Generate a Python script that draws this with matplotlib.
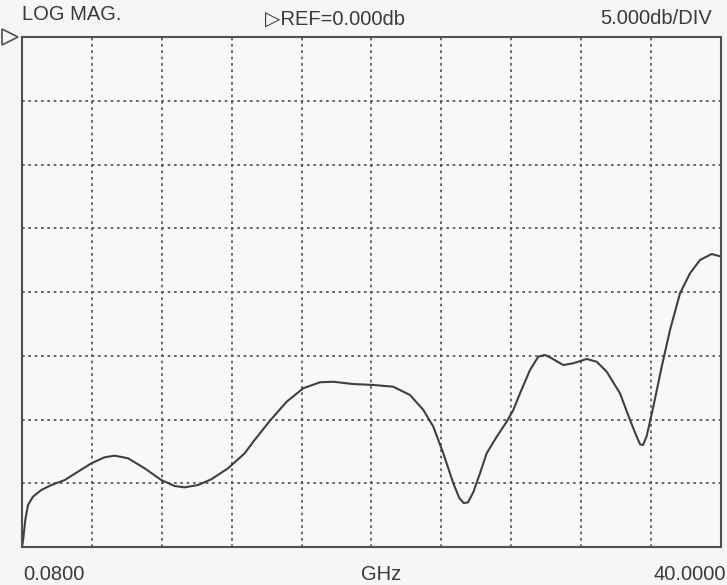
import numpy as np
import matplotlib as mpl

mpl.use('agg')

import matplotlib.pyplot as plt

# trace (GHz, dB)
freq_ghz = [0.08, 0.137, 0.268, 0.423, 0.708, 1.182, 1.753, 2.519, 3.278, 4.038,
            4.803, 5.374, 6.134, 7.087, 8.036, 8.801, 9.372, 10.131, 10.891, 11.845,
            12.798, 13.289, 14.243, 15.197, 16.145, 17.099, 17.858, 19.0, 20.142, 21.285,
            22.239, 23.0, 23.569, 24.14, 24.711, 25.05, 25.3, 25.55, 25.854, 26.236, 26.618,
            27.19, 27.761, 28.138, 28.521, 29.092, 29.566, 29.949, 30.331, 30.994, 31.565,
            32.33, 32.901, 33.472, 34.232, 34.803, 35.186, 35.38, 35.55, 35.757, 36.134, 36.614,
            37.088, 37.659, 38.23, 38.801, 39.47, 40.0]
mag_db = [-40.0, -39.53, -37.88, -36.71, -36.05, -35.53, -35.14, -34.75, -34.09, -33.44,
          -32.96, -32.84, -33.04, -33.83, -34.75, -35.22, -35.32, -35.14, -34.69, -33.83,
          -32.65, -31.74, -30.09, -28.6, -27.55, -27.08, -27.04, -27.22, -27.29, -27.43,
          -28.08, -29.25, -30.56, -32.65, -35.0, -36.15, -36.55, -36.5, -35.7, -34.22, -32.65,
          -31.35, -30.17, -29.25, -27.95, -26.12, -25.07, -24.94, -25.2, -25.73, -25.59,
          -25.25, -25.47, -26.25, -27.95, -30.04, -31.35, -31.95, -32.0, -31.3, -29.0, -25.86,
          -22.98, -20.1, -18.53, -17.49, -17.02, -17.22]

f_start = 0.08
f_stop = 40.0
ref_db = 0.0
db_per_div = 5.0
n_xdiv = 10
n_ydiv = 8

plt.rcParams['font.family'] = ['Liberation Sans', 'DejaVu Sans']
ink = '#3a3a3a'

fig = plt.figure(figsize=(7.27, 5.85), dpi=100, facecolor='#f6f6f6')
ax = fig.add_axes([22/727, 38/585, 699/727, 510/585])
ax.set_facecolor('#f8f8f8')

ax.set_xlim(f_start, f_stop)
ax.set_ylim(ref_db - n_ydiv*db_per_div, ref_db)

xg = np.linspace(f_start, f_stop, n_xdiv + 1)
yg = np.linspace(ref_db - n_ydiv*db_per_div, ref_db, n_ydiv + 1)
for x in xg[1:-1]:
    ax.axvline(x, color='#505050', lw=1.2, ls=(0, (1.6, 2.2)))
for y in yg[1:-1]:
    ax.axhline(y, color='#505050', lw=1.2, ls=(0, (1.6, 2.2)))

ax.plot(freq_ghz, mag_db, color='#404040', lw=1.5, solid_joinstyle='round')

for s in ax.spines.values():
    s.set_color('#505050')
    s.set_linewidth(1.5)
ax.set_xticks([])
ax.set_yticks([])

# reference marker at the left edge
ax.plot([-0.017], [ref_db], marker='>', ms=11, mfc='none', mec='#505050', mew=1.2,
        transform=ax.get_yaxis_transform(), clip_on=False)

fs = 14.5
fig.text(22/727, 1 - 15/585, 'LOG MAG.', fontsize=fs, color=ink, ha='left', va='center')
fig.text(265/727, 1 - 19/585, '\u25b7REF=%.3fdb' % ref_db, fontsize=fs, color=ink,
         ha='left', va='center')
fig.text(712/727, 1 - 19/585, '%.3fdb/DIV' % db_per_div, fontsize=fs, color=ink, ha='right', va='center')
fig.text(23/727, 1 - 574/585, '%.4f' % f_start, fontsize=fs, color=ink, ha='left', va='center')
fig.text(381/727, 1 - 574/585, 'GHz', fontsize=fs, color=ink, ha='center', va='center')
fig.text(726/727, 1 - 574/585, '%.4f' % f_stop, fontsize=fs, color=ink, ha='right', va='center')

fig.savefig('out.png', dpi=100, facecolor=fig.get_facecolor())
